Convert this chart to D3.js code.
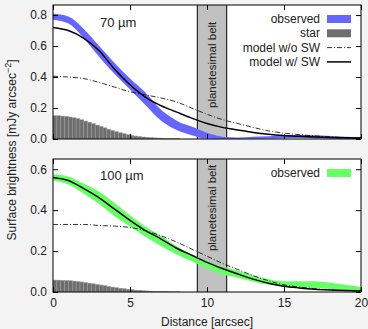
<!DOCTYPE html>
<html>
<head>
<meta charset="utf-8">
<script src="https://cdn.jsdelivr.net/npm/d3@7"></script>
<style>
body{margin:0;background:#f3f3f3}
text{font-family:"Liberation Sans",Arial,sans-serif;font-size:12px;fill:#222}
</style>
</head>
<body>
<svg id="chart" width="368" height="329"></svg>
<script>
// distance samples [arcsec]
const dist=[0,1,2,3,4,5,6,7,8,9,10,11,12,13,14,15,16,17,18,19,20]

// 70 micron
const obs70Hi=[0.81,0.79,0.71,0.60,0.49,0.39,0.30,0.19,0.12,0.08,0.04,0.015,0.01,0.014,0.018,0.022,0.026,0.025,0.02,0.014,0.01]
const obs70Lo=[0.77,0.745,0.65,0.53,0.42,0.32,0.22,0.12,0.06,0.025,0.003,0,0,0.001,0.003,0.005,0.006,0.005,0.004,0.002,0.001]
const noSW70=[0.405,0.40,0.39,0.365,0.335,0.305,0.285,0.265,0.24,0.20,0.16,0.125,0.10,0.075,0.052,0.038,0.028,0.02,0.013,0.009,0.006]
const withSW70=[0.72,0.70,0.65,0.57,0.45,0.35,0.27,0.215,0.175,0.135,0.10,0.075,0.058,0.042,0.03,0.022,0.017,0.013,0.01,0.008,0.006]
const star70=[0.150,0.150,0.148,0.146,0.142,0.137,0.131,0.124,0.116,0.108,0.099,0.090,0.081,0.072,0.063,0.055,0.047,0.040,0.034,0.028,0.023,0.019,0.016,0.013,0.011,0.009,0.007,0.006,0.005,0.004,0.003,0.002,0.002]

// 100 micron
const obs100Hi=[0.575,0.565,0.53,0.49,0.435,0.375,0.32,0.275,0.225,0.185,0.15,0.125,0.105,0.08,0.062,0.052,0.052,0.053,0.045,0.035,0.025]
const obs100Lo=[0.545,0.525,0.48,0.43,0.37,0.32,0.27,0.225,0.185,0.15,0.115,0.085,0.07,0.05,0.035,0.025,0.022,0.02,0.015,0.01,0.006]
const noSW100=[0.33,0.33,0.33,0.325,0.322,0.315,0.30,0.275,0.245,0.21,0.175,0.14,0.11,0.08,0.055,0.035,0.024,0.016,0.01,0.007,0.005]
const withSW100=[0.56,0.545,0.505,0.46,0.405,0.35,0.30,0.26,0.215,0.18,0.145,0.115,0.088,0.063,0.043,0.028,0.02,0.014,0.01,0.007,0.005]
const star100=[0.058,0.058,0.057,0.056,0.055,0.053,0.051,0.049,0.046,0.043,0.040,0.037,0.034,0.031,0.027,0.024,0.021,0.018,0.016,0.013,0.011,0.009,0.008,0.006,0.005,0.004,0.003,0.003,0.002,0.002,0.001,0.001,0.001]
const starBin=0.25

const belt=[9.37,11.28]
const xTicks=[0,5,10,15,20]
const legend70=["observed","star","model w/o SW","model w/ SW"]
const legend100=["observed"]

const svg=d3.select("#chart")
const left=53,right=361
const x=d3.scaleLinear().domain([0,20]).range([left,right])

const panels=[
    {id:"p70",top:5,bottom:139,ymax:0.865,yTicks:[0,0.2,0.4,0.6,0.8],label:"70 \u00b5m",color:"#6666ff",
     hi:obs70Hi,lo:obs70Lo,noSW:noSW70,withSW:withSW70,star:star70,legend:legend70,xLabels:false},
    {id:"p100",top:159,bottom:292,ymax:0.65,yTicks:[0,0.2,0.4,0.6],label:"100 \u00b5m",color:"#66ff66",
     hi:obs100Hi,lo:obs100Lo,noSW:noSW100,withSW:withSW100,star:star100,legend:legend100,xLabels:true}
]

const dashDot="5,2,1,2"

panels.forEach((p)=>{
    const y=d3.scaleLinear().domain([0,p.ymax]).range([p.bottom,p.top])
    const g=svg.append("g")
    g.append("rect").attr("x",left).attr("y",p.top)
        .attr("width",right-left).attr("height",p.bottom-p.top).attr("fill","white")
    svg.append("clipPath").attr("id","clip-"+p.id).append("rect")
        .attr("x",left).attr("y",p.top).attr("width",right-left).attr("height",p.bottom-p.top)
    const plot=g.append("g").attr("clip-path","url(#clip-"+p.id+")")

    // planetesimal belt
    plot.append("rect").attr("x",x(belt[0])).attr("y",p.top)
        .attr("width",x(belt[1])-x(belt[0])).attr("height",p.bottom-p.top)
        .attr("fill","#c0c0c0")
    belt.forEach((b)=>{
        plot.append("line").attr("x1",x(b)).attr("x2",x(b)).attr("y1",p.top).attr("y2",p.bottom)
            .attr("stroke","black").attr("stroke-width",1)
    })

    // observed band
    const band=d3.area().x((d,i)=>x(dist[i])).y0((d,i)=>y(p.lo[i])).y1((d)=>y(d))
        .curve(d3.curveMonotoneX)
    plot.append("path").datum(p.hi).attr("d",band).attr("fill",p.color)

    // star as steps
    plot.selectAll(".star").data(p.star).enter().append("rect")
        .attr("class","star")
        .attr("x",(d,i)=>x(i*starBin))
        .attr("width",x(starBin)-x(0))
        .attr("y",(d)=>y(d))
        .attr("height",(d)=>p.bottom-y(d))
        .attr("fill","#6e6e6e")
        .attr("stroke","#9a9a9a")
        .attr("stroke-width",0.5)

    const line=d3.line().x((d,i)=>x(dist[i])).y((d)=>y(d)).curve(d3.curveMonotoneX)
    plot.append("path").datum(p.noSW).attr("d",line).attr("fill","none")
        .attr("stroke","black").attr("stroke-width",0.8).attr("stroke-dasharray",dashDot)
    plot.append("path").datum(p.withSW).attr("d",line).attr("fill","none")
        .attr("stroke","black").attr("stroke-width",1.5)

    // belt label
    g.append("text").attr("transform",`translate(${x((belt[0]+belt[1])/2)+4},${y(0.2)}) rotate(-90)`)
        .attr("text-anchor","start").style("font-size","11.5px").text("planetesimal belt")

    // frame
    g.append("rect").attr("x",left).attr("y",p.top)
        .attr("width",right-left).attr("height",p.bottom-p.top)
        .attr("fill","none").attr("stroke","black").attr("stroke-width",1)

    // y ticks (left, right mirror)
    const yAxisL=d3.axisLeft(y).tickValues(p.yTicks).tickFormat(d3.format(".1f")).tickSizeInner(-5).tickSizeOuter(0).tickPadding(6)
    const ga=g.append("g").attr("transform",`translate(${left},0)`).call(yAxisL)
    ga.select(".domain").remove()
    const yAxisR=d3.axisRight(y).tickValues(p.yTicks).tickFormat("").tickSizeInner(-5).tickSizeOuter(0)
    const gr=g.append("g").attr("transform",`translate(${right},0)`).call(yAxisR)
    gr.select(".domain").remove()

    // x ticks bottom / top
    const xAxisB=d3.axisBottom(x).tickValues(xTicks).tickSizeInner(-5).tickSizeOuter(0).tickPadding(6)
    if(!p.xLabels) xAxisB.tickFormat("")
    const gb=g.append("g").attr("transform",`translate(0,${p.bottom})`).call(xAxisB)
    gb.select(".domain").remove()
    const xAxisT=d3.axisTop(x).tickValues(xTicks).tickFormat("").tickSizeInner(-5).tickSizeOuter(0)
    const gt=g.append("g").attr("transform",`translate(0,${p.top})`).call(xAxisT)
    gt.select(".domain").remove()
    g.selectAll(".tick text").style("font-size","12px").attr("fill","#222")
    g.selectAll(".tick line").attr("stroke","black")

    // panel label
    g.append("text").attr("x",100).attr("y",p.top+(p.id==="p70"?22:21)).style("font-size","13px").text(p.label)

    // legend
    const rows=g.selectAll(".leg").data(p.legend).enter().append("g")
        .attr("transform",(d,i)=>`translate(0,${p.top+14+i*14.3})`)
    rows.append("text").attr("x",320).attr("y",4).attr("text-anchor","end").text((d)=>d)
    rows.each(function(d){
        const r=d3.select(this)
        if(d==="observed"){
            r.append("rect").attr("x",327).attr("y",-4).attr("width",24).attr("height",8).attr("fill",p.color)
        }else if(d==="star"){
            r.append("rect").attr("x",327).attr("y",-4).attr("width",24).attr("height",8).attr("fill","#6e6e6e")
        }else if(d==="model w/o SW"){
            r.append("line").attr("x1",327).attr("x2",351).attr("y1",0).attr("y2",0)
                .attr("stroke","black").attr("stroke-width",0.8).attr("stroke-dasharray",dashDot)
        }else{
            r.append("line").attr("x1",327).attr("x2",351).attr("y1",0).attr("y2",0)
                .attr("stroke","black").attr("stroke-width",1.5)
        }
    })
})

// axis titles
svg.append("text").attr("x",(left+right)/2).attr("y",326).attr("text-anchor","middle").text("Distance [arcsec]")
const yt=svg.append("text").attr("transform","translate(16,150) rotate(-90)").attr("text-anchor","middle")
yt.append("tspan").text("Surface brightness [mJy arcsec")
yt.append("tspan").attr("dy",-5).style("font-size","9px").text("\u22122")
yt.append("tspan").attr("dy",5).text("]")
</script>
</body>
</html>
